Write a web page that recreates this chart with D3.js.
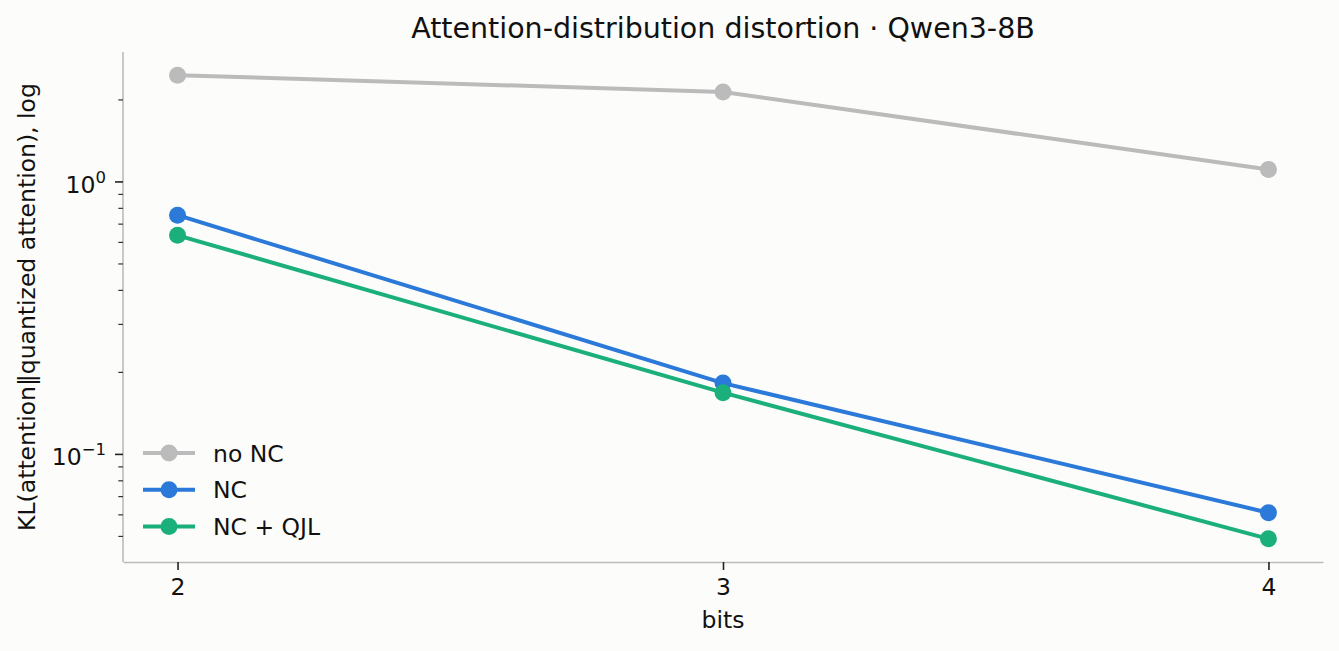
<!DOCTYPE html>
<html>
<head>
<meta charset="utf-8">
<script src="https://cdn.jsdelivr.net/npm/d3@7"></script>
<style>
  body { margin: 0; background: #fcfcfa; }
  text { font-family: "DejaVu Sans", sans-serif; fill: #111; }
</style>
</head>
<body>
<div id="chart"></div>
<script>
// data
let bits = [2, 3, 4];
let noNC = [2.465, 2.14, 1.111];
let nc = [0.755, 0.1827, 0.0611];
let ncQjl = [0.637, 0.1685, 0.049];

let seriesNames = ["no NC", "NC", "NC + QJL"];
let seriesColors = ["#bbbbbb", "#2b79d8", "#1bb07b"];
let seriesValues = [noNC, nc, ncQjl];

let width = 1339, height = 651;
let margin = { top: 52, right: 16, bottom: 89, left: 123 };

let svg = d3.select("#chart")
    .append("svg")
    .attr("width", width)
    .attr("height", height);

svg.append("rect")
    .attr("width", width)
    .attr("height", height)
    .attr("fill", "#fcfcfa");

// 5% padding like matplotlib autoscale
let xPad = (d3.max(bits) - d3.min(bits)) * 0.05;
let x = d3.scaleLinear()
    .domain([d3.min(bits) - xPad, d3.max(bits) + xPad])
    .range([margin.left, width - margin.right]);

let allVals = seriesValues.flat();
let lo = Math.log10(d3.min(allVals)), hi = Math.log10(d3.max(allVals));
let yPad = (hi - lo) * 0.05;
let y = d3.scaleLog()
    .domain([Math.pow(10, lo - yPad), Math.pow(10, hi + yPad)])
    .range([height - margin.bottom, margin.top]);

// title
svg.append("text")
    .attr("x", (margin.left + width - margin.right) / 2)
    .attr("y", 38)
    .attr("text-anchor", "middle")
    .style("font-size", "28.5px")
    .text("Attention-distribution distortion \u00b7 Qwen3-8B");

// x axis
let xAxis = svg.append("g")
    .attr("transform", "translate(0," + (height - margin.bottom) + ")")
    .call(d3.axisBottom(x).tickValues(bits).tickFormat(d3.format("d"))
        .tickSizeInner(8).tickSizeOuter(0).tickPadding(8));
xAxis.select(".domain").attr("stroke", "#bbbbbb").attr("stroke-width", 1.6);
xAxis.selectAll(".tick line").attr("stroke", "#222").attr("stroke-width", 1.6);
xAxis.selectAll(".tick text")
    .style("font-size", "23.5px")
    .attr("fill", "#111")
    .attr("font-family", "DejaVu Sans");

svg.append("text")
    .attr("x", (margin.left + width - margin.right) / 2)
    .attr("y", 628)
    .attr("text-anchor", "middle")
    .style("font-size", "23.5px")
    .text("bits");

// y axis: major ticks at decades, minor ticks in between
let allTicks = y.ticks();
let majors = allTicks.filter(d => Math.abs(Math.log10(d) - Math.round(Math.log10(d))) < 1e-9);
let minors = allTicks.filter(d => majors.indexOf(d) < 0);

let yAxis = svg.append("g").attr("transform", "translate(" + margin.left + ",0)");
yAxis.append("line")
    .attr("x1", 0).attr("x2", 0)
    .attr("y1", y.range()[1]).attr("y2", y.range()[0])
    .attr("stroke", "#bbbbbb")
    .attr("stroke-width", 1.6);

yAxis.selectAll(".minor")
    .data(minors)
    .join("line")
    .attr("class", "minor")
    .attr("x1", -4.7).attr("x2", 0)
    .attr("y1", d => y(d)).attr("y2", d => y(d))
    .attr("stroke", "#333")
    .attr("stroke-width", 1.2);

yAxis.selectAll(".major")
    .data(majors)
    .join("line")
    .attr("class", "major")
    .attr("x1", -8).attr("x2", 0)
    .attr("y1", d => y(d)).attr("y2", d => y(d))
    .attr("stroke", "#222")
    .attr("stroke-width", 1.6);

let majorLabels = yAxis.selectAll(".majorLabel")
    .data(majors)
    .join("text")
    .attr("class", "majorLabel")
    .attr("x", -17)
    .attr("y", d => y(d) + 11)
    .attr("text-anchor", "end")
    .style("font-size", "23.5px");
majorLabels.append("tspan").text("10");
majorLabels.append("tspan")
    .attr("dy", -10)
    .style("font-size", "16.5px")
    .text(d => Math.round(Math.log10(d)) === 0 ? "0" : "\u2212" + Math.abs(Math.round(Math.log10(d))));

svg.append("text")
    .attr("transform", "translate(35," + ((margin.top + height - margin.bottom) / 2) + ") rotate(-90)")
    .attr("text-anchor", "middle")
    .style("font-size", "23.5px")
    .text("KL(attention\u2016quantized attention), log");

// lines and markers
let line = d3.line()
    .x((d, i) => x(bits[i]))
    .y(d => y(d));

seriesValues.forEach(function (vals, s) {
    svg.append("path")
        .attr("d", line(vals))
        .attr("fill", "none")
        .attr("stroke", seriesColors[s])
        .attr("stroke-width", 4);

    svg.selectAll(".pt" + s)
        .data(vals)
        .join("circle")
        .attr("class", "pt" + s)
        .attr("cx", (d, i) => x(bits[i]))
        .attr("cy", d => y(d))
        .attr("r", 8.5)
        .attr("fill", seriesColors[s]);
});

// legend
let legend = svg.append("g").attr("transform", "translate(143,453)");
seriesNames.forEach(function (name, s) {
    let row = legend.append("g").attr("transform", "translate(0," + (s * 36.7) + ")");
    row.append("line")
        .attr("x1", 0).attr("x2", 52)
        .attr("stroke", seriesColors[s])
        .attr("stroke-width", 4);
    row.append("circle")
        .attr("cx", 26)
        .attr("r", 8.5)
        .attr("fill", seriesColors[s]);
    row.append("text")
        .attr("x", 70)
        .attr("y", 8.5)
        .style("font-size", "23.5px")
        .text(name);
});
</script>
</body>
</html>
